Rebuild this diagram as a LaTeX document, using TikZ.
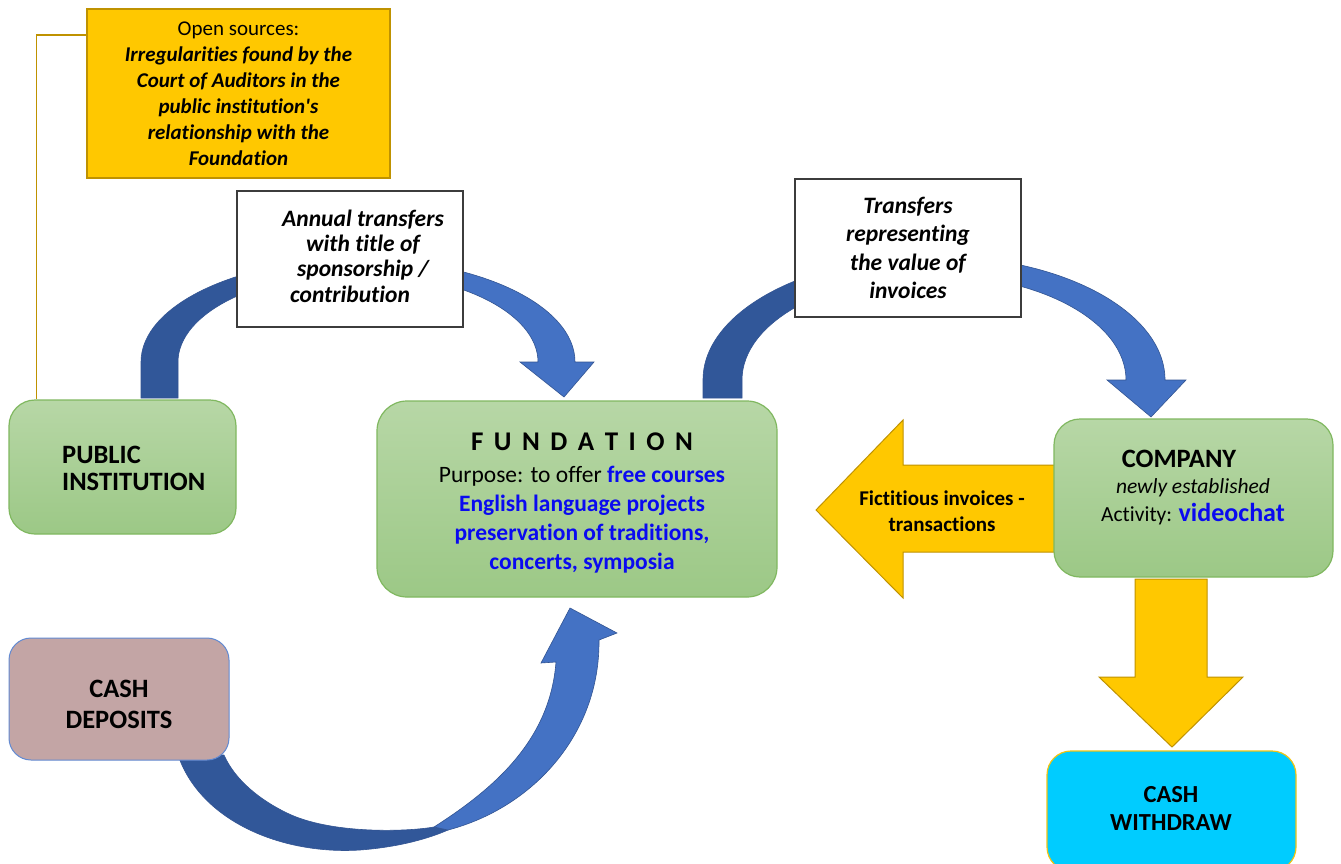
\documentclass[tikz,border=0pt]{standalone}
\usepackage{fontspec}
\setmainfont{Carlito}[Ligatures=NoCommon]
\usetikzlibrary{calc}

\definecolor{grT}{RGB}{183,215,166}
\definecolor{grB}{RGB}{156,200,134}
\definecolor{grE}{RGB}{128,184,96}
\definecolor{gold}{RGB}{255,200,0}
\definecolor{goldE}{RGB}{191,146,0}
\definecolor{rose}{RGB}{195,165,165}
\definecolor{roseE}{RGB}{98,138,210}
\definecolor{cyanbox}{RGB}{0,204,255}
\definecolor{cyanE}{RGB}{240,196,20}
\definecolor{bluedark}{RGB}{49,87,153}
\definecolor{bluelight}{RGB}{68,114,196}
\definecolor{blueE}{RGB}{50,84,146}
\definecolor{boxE}{RGB}{60,60,60}
\definecolor{txtblue}{RGB}{10,10,240}

% straight apostrophe, set as a glyph so the TeX quote mapping leaves it alone
\newcommand{\straightquote}{\XeTeXglyph\XeTeXcharglyph"27\relax}

\begin{document}
\begin{tikzpicture}[x=1pt,y=-1pt,
  greenbox/.style={rounded corners=26pt, top color=grT, bottom color=grB,
    draw=grE, line width=1.2pt, inner sep=0pt},
  whitebox/.style={draw=boxE, fill=white, line width=1.3pt, inner sep=0pt,
    align=center, font=\bfseries\itshape\fontsize{23.5}{28.5}\selectfont},
  goldbox/.style={draw=goldE, fill=gold, line width=2pt, inner sep=0pt, align=center},
  bandD/.style={fill=bluedark, draw=blueE, line width=0.6pt},
  bandL/.style={fill=bluelight, draw=blueE, line width=0.6pt},
  blockarrow/.style={fill=gold, draw=goldE, line width=1pt},
  goldline/.style={draw=goldE, line width=1.6pt},
  caption/.style={inner sep=0pt, align=center}]

\clip (0,0) rectangle (1341,863);
\fill[white] (0,0) rectangle (1341,863);

% curved arrow: public institution -> foundation
\path[bandD] (141,398) -- (141,362)
  arc[start angle=180, end angle=270, x radius=217, y radius=103]
  -- (358,273)
  arc[start angle=270, end angle=180, x radius=180, y radius=89]
  -- (178,398) -- cycle;
\path[bandL] (358,259)
  arc[start angle=270, end angle=360, x radius=217, y radius=103]
  -- (594,362) -- (564,397) -- (520,362) -- (538,362)
  arc[start angle=360, end angle=270, x radius=180, y radius=89]
  -- cycle;

% curved arrow: foundation -> company
\path[bandD] (703,398) -- (703,380)
  arc[start angle=180, end angle=270, x radius=231, y radius=124]
  -- (934,275)
  arc[start angle=270, end angle=180, x radius=192, y radius=105]
  -- (742,398) -- cycle;
\path[bandL] (934,256)
  arc[start angle=270, end angle=360, x radius=231, y radius=124]
  -- (1186,380) -- (1151,417) -- (1107,380) -- (1126,380)
  arc[start angle=360, end angle=270, x radius=192, y radius=105]
  -- cycle;

% curved arrow: cash deposits -> foundation
\path[bandD] (178,755)
  .. controls (200,820) and (280,855) .. (360,850)
  .. controls (400,847) and (430,838) .. (448,830)
  -- (434,827)
  .. controls (405,832) and (330,834) .. (287,813)
  .. controls (260,800) and (235,780) .. (224,755) -- cycle;
\path[bandL] (434,827)
  .. controls (495,788) and (550,740) .. (556,662)
  -- (541,663) -- (570,608) -- (617,633) -- (599,640)
  .. controls (600,735) and (532,808) .. (448,830) -- cycle;

% yellow block arrows
\path[blockarrow] (1056,465) -- (903,465) -- (903,420) -- (816,510)
  -- (903,598) -- (903,552) -- (1056,552) -- cycle;
\path[blockarrow] (1135,579) -- (1207,579) -- (1207,677) -- (1243,677)
  -- (1172,747) -- (1099,677) -- (1135,677) -- cycle;

% boxes
\node[goldbox, minimum width=303, minimum height=169,
  font=\fontsize{21}{26}\selectfont] (src) at (238.5,93.5)
  {Open sources:\\
   \textbf{\textit{Irregularities found by the}}\\
   \textbf{\textit{Court of Auditors in the}}\\
   \textbf{\textit{public institution\straightquote s}}\\
   \textbf{\textit{relationship with the}}\\
   \textbf{\textit{Foundation}}};

\node[whitebox, minimum width=226, minimum height=136] (ann) at (350,259) {};
\node[caption, font=\bfseries\itshape\fontsize{23.5}{25.3}\selectfont] (anntxt) at (363,256)
  {Annual transfers\\with title of\\sponsorship /\\contribution\hspace*{26pt}};

\node[whitebox, minimum width=226, minimum height=138] (trf) at (908,248)
  {Transfers\\representing\\the value of\\invoices};

\node[greenbox, minimum width=227, minimum height=134] (pub) at (122.5,467) {};
\node[inner sep=0pt, anchor=west, align=left,
  font=\bfseries\fontsize{26.5}{27}\selectfont] (pubtxt) at (62,468)
  {PUBLIC\\INSTITUTION};

\node[greenbox, rounded corners=30pt, minimum width=400, minimum height=196] (fund) at (577,499) {};
\node[caption, font=\fontsize{23.5}{29}\selectfont] (fundtxt) at (582,503)
  {{\bfseries\fontsize{27}{29}\selectfont F\hspace{10.5pt}U\hspace{10.5pt}N\hspace{10.5pt}D\hspace{10.5pt}A\hspace{10.5pt}T\hspace{10.5pt}I\hspace{10.5pt}O\hspace{10.5pt}N}\\[3pt]
   Purpose: to offer \textcolor{txtblue}{\bfseries free courses}\\
   \textcolor{txtblue}{\bfseries English language projects}\\
   \textcolor{txtblue}{\bfseries preservation of traditions,}\\
   \textcolor{txtblue}{\bfseries concerts, symposia}};

\node[greenbox, minimum width=279, minimum height=158] (comp) at (1193.5,498) {};
\node[caption, font=\fontsize{21.5}{28}\selectfont] (comptxt) at (1193,488)
  {{\bfseries\fontsize{26.5}{27}\selectfont COMPANY}\hspace*{28pt}\\[-2pt]
   \textit{newly established}\\
   Activity: \textcolor{txtblue}{\bfseries\fontsize{26}{28}\selectfont videochat}};

\node[caption, font=\bfseries\fontsize{21}{26}\selectfont] (fict) at (942,511)
  {Fictitious invoices -\\transactions};

\node[rounded corners=22pt, fill=rose, draw=roseE, line width=1pt, minimum width=220,
  minimum height=122, inner sep=0pt] (dep) at (119,699) {};
\node[caption, font=\bfseries\fontsize{26.5}{31}\selectfont] (deptxt) at (119,704)
  {CASH\\DEPOSITS};

\node[rounded corners=24pt, fill=cyanbox, draw=cyanE, line width=1.2pt, minimum width=249,
  minimum height=120, inner sep=0pt] (wd) at (1171.5,811) {};
\node[caption, font=\bfseries\fontsize{24.5}{28}\selectfont] (wdtxt) at (1171,808)
  {CASH\\WITHDRAW};

% link from the sources note down to the public institution
\draw[goldline] (src.west) ++(0,-58.5) -| ([xshift=28pt]pub.north west);

\end{tikzpicture}
\end{document}
